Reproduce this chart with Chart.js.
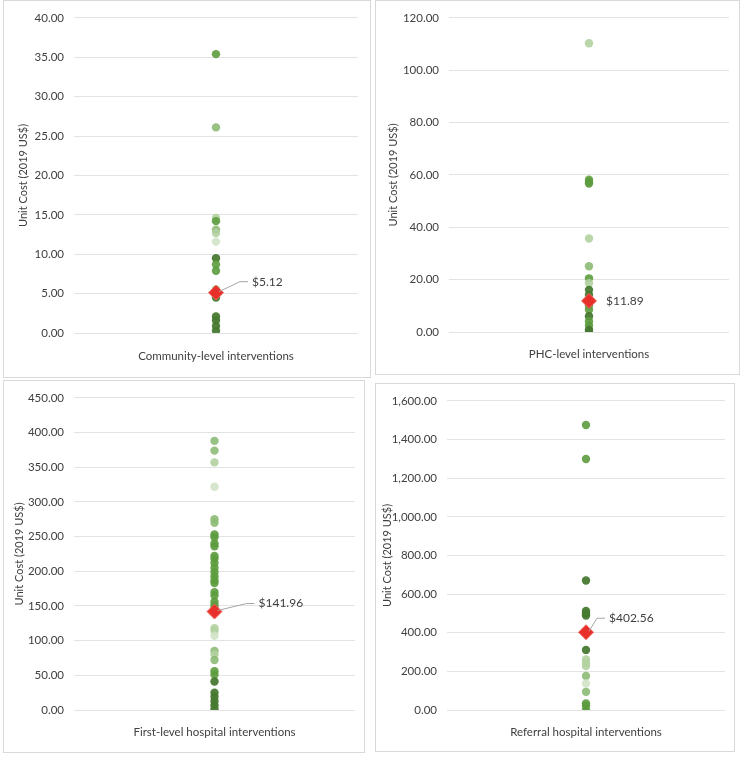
<!DOCTYPE html>
<html lang="en">
<head>
  <meta charset="UTF-8" />
  <title>Unit cost by level of care</title>
  <script src="https://cdn.jsdelivr.net/npm/chart.js"></script>
  <style>
    body { margin: 0; background: #fff; }
    .panel { position: absolute; border: 1px solid #d9d9d9; box-sizing: border-box; background: #fff; }
    .panel canvas { position: absolute; left: 0; top: 0; }
  </style>
</head>
<body>
  <div class="panel" id="p0"><canvas id="c0"></canvas></div>
  <div class="panel" id="p1"><canvas id="c1"></canvas></div>
  <div class="panel" id="p2"><canvas id="c2"></canvas></div>
  <div class="panel" id="p3"><canvas id="c3"></canvas></div>

  <script>
    // categories
    const categories = [
      'Community-level interventions',
      'PHC-level interventions',
      'First-level hospital interventions',
      'Referral hospital interventions'
    ];
    const axisTitle = 'Unit Cost (2019 US$)';

    // unit costs
    const communityCosts = [35.4, 26.1, 14.6, 14.2, 13.1, 12.7, 11.6, 9.5, 8.7, 7.9, 5.5, 4.5, 2.1, 1.6, 0.9, 0.3];
    const phcCosts = [110.3, 58.2, 57.3, 56.7, 35.7, 25.1, 20.5, 18.6, 16.1, 14.2, 10.1, 8.5, 6.0, 4.1, 2.5, 0.9, 0.0];
    const firstLevelCosts = [388, 374, 357, 322, 275, 270, 253, 249, 240, 236, 222, 218, 212, 205, 199, 193, 187, 183,
                             170, 165, 156, 151, 147, 118, 114, 107, 85, 80, 72, 56, 51, 41, 25, 19, 13, 7, 1];
    const referralCosts = [1475, 1299, 670, 513, 500, 489, 311, 262, 244, 227, 176, 137, 94, 34, 22, 0];

    // means (red diamonds)
    const meanCosts = [5.12, 11.89, 141.96, 402.56];

    // y axis ticks
    const yMax = [40, 120, 450, 1600];
    const yStep = [5, 20, 50, 200];

    // point shades (style only): D dark, M mid, L light, P pale, V very pale
    const communityShades = 'MLPMLPVDMMMDDDDD';
    const phcShades = 'PMMMPLMPDDMMDMMDD';
    const firstLevelShades = 'LLPVLLMMMMMMMMMMMMMMMMMPPVLPLMMDDDDDD';
    const referralShades = 'MMDDDDDPPPLVLMMM';

    const shadeColors = {
      D: 'rgba(72,122,50,0.95)',
      M: 'rgba(92,156,62,0.9)',
      L: 'rgba(141,187,117,0.9)',
      P: 'rgba(178,210,160,0.9)',
      V: 'rgba(208,227,198,0.9)'
    };

    const allCosts = [communityCosts, phcCosts, firstLevelCosts, referralCosts];
    const allShades = [communityShades, phcShades, firstLevelShades, referralShades];

    // panel boxes and plot areas (page px)
    const layout = [
      { x: 3,   y: 0,   w: 368, h: 378, l: 73,  t: 15,  r: 357, b: 332, titleX: 23,  labelY: 347, lab: { dx: 36, dy: -11, line: true } },
      { x: 375, y: 0,   w: 365, h: 375, l: 448, t: 15,  r: 728, b: 331, titleX: 393, labelY: 345, lab: { dx: 17, dy: 0,   line: false } },
      { x: 3,   y: 380, w: 362, h: 373, l: 73,  t: 394, r: 354, b: 709, titleX: 19,  labelY: 723, lab: { dx: 44, dy: -8,  line: true } },
      { x: 375, y: 383, w: 360, h: 369, l: 446, t: 397, r: 724, b: 709, titleX: 387, labelY: 723, lab: { dx: 23, dy: -14, line: true } }
    ];

    Chart.defaults.font.family = 'Lato, "Open Sans", sans-serif';
    Chart.defaults.color = '#404040';

    const fmt = v => v.toLocaleString('en-US', { minimumFractionDigits: 2, maximumFractionDigits: 2 });

    // mean label with leader line
    const meanLabel = {
      id: 'meanLabel',
      afterDatasetsDraw(chart, args, opts) {
        const pt = chart.getDatasetMeta(0).data[0];
        const ctx = chart.ctx;
        const tx = pt.x + opts.dx, ty = pt.y + opts.dy;
        ctx.save();
        if (opts.line) {
          ctx.strokeStyle = '#a6a6a6';
          ctx.lineWidth = 1;
          ctx.beginPath();
          ctx.moveTo(pt.x + 3, pt.y - 1);
          ctx.lineTo(tx - 12, ty);
          ctx.lineTo(tx - 4, ty);
          ctx.stroke();
        }
        ctx.fillStyle = '#404040';
        ctx.font = '12px Lato, "Open Sans", sans-serif';
        ctx.textBaseline = 'middle';
        ctx.textAlign = 'left';
        ctx.fillText('$' + fmt(opts.value), tx, ty);
        ctx.restore();
      }
    };

    categories.forEach((cat, i) => {
      const L = layout[i];
      const panel = document.getElementById('p' + i);
      panel.style.left = L.x + 'px';
      panel.style.top = L.y + 'px';
      panel.style.width = L.w + 'px';
      panel.style.height = L.h + 'px';
      const canvas = document.getElementById('c' + i);
      canvas.width = L.w;
      canvas.height = L.h;

      const axisLeft = Math.round(L.titleX - 10.6 - L.x);
      const yWidth = L.l - L.x - axisLeft;
      const xHeight = 30;

      new Chart(canvas, {
        type: 'scatter',
        data: {
          labels: [cat],
          datasets: [
            {
              label: 'Mean',
              data: [{ x: cat, y: meanCosts[i] }],
              pointStyle: 'rectRot',
              pointRadius: 7.5,
              backgroundColor: '#e8302a',
              borderColor: '#f2665e',
              borderWidth: 1
            },
            {
              label: 'Interventions',
              data: allCosts[i].map(v => ({ x: cat, y: v })),
              pointRadius: 4.2,
              borderWidth: 0,
              backgroundColor: allShades[i].split('').map(s => shadeColors[s])
            }
          ]
        },
        options: {
          responsive: false,
          animation: false,
          layout: {
            padding: { left: axisLeft, top: L.t - L.y, right: L.x + L.w - L.r, bottom: L.y + L.h - L.b - xHeight }
          },
          plugins: {
            legend: { display: false },
            tooltip: { enabled: false },
            meanLabel: { value: meanCosts[i], dx: L.lab.dx, dy: L.lab.dy, line: L.lab.line }
          },
          scales: {
            x: {
              type: 'category',
              labels: [cat],
              offset: true,
              grid: { display: false, offset: true },
              border: { display: false },
              ticks: { padding: L.labelY - L.b - 7, font: { size: 11.5 }, color: '#404040' },
              afterFit: s => { s.height = xHeight; }
            },
            y: {
              min: 0,
              max: yMax[i],
              ticks: { stepSize: yStep[i], padding: 10, font: { size: 11.5 }, color: '#404040', callback: v => fmt(v) },
              grid: { color: '#e3e3e3', drawTicks: false },
              border: { display: false },
              title: { display: true, text: axisTitle, font: { size: 11 }, color: '#404040' },
              afterFit: s => { s.width = yWidth; }
            }
          }
        },
        plugins: [meanLabel]
      });
    });
  </script>
</body>
</html>
